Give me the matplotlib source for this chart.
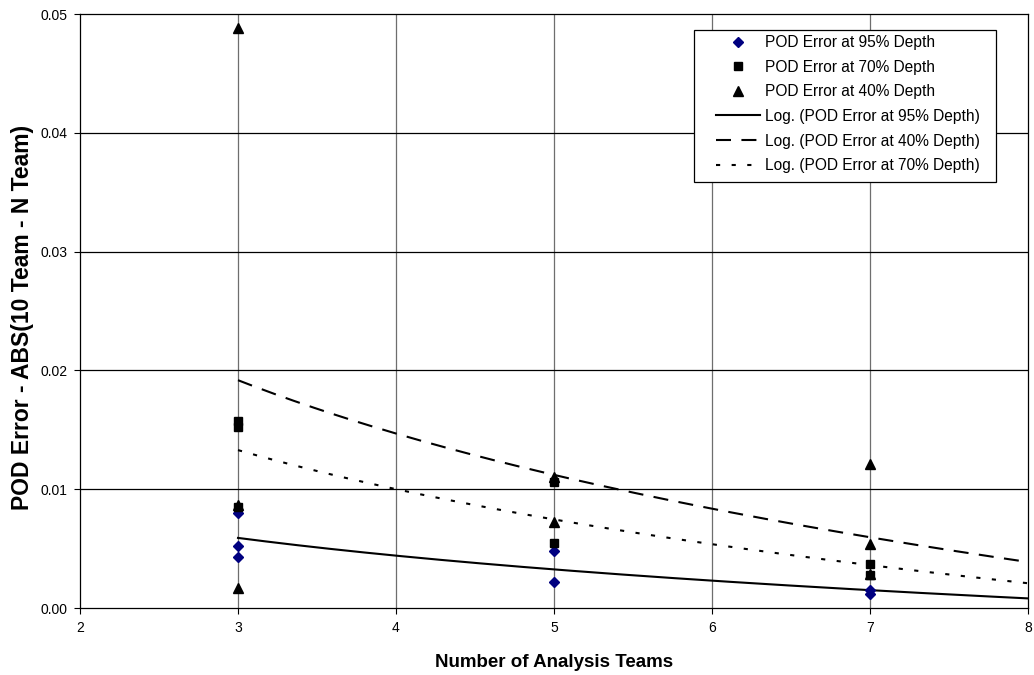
import numpy as np
import matplotlib
matplotlib.use("Agg")
import matplotlib.pyplot as plt
from matplotlib.ticker import FormatStrFormatter
from matplotlib.patches import Rectangle
from matplotlib.transforms import IdentityTransform

plt.rcParams['font.family'] = ['Liberation Sans', 'DejaVu Sans']

# ---- data ----
x95 = [3, 3, 3, 5, 5, 7, 7]
y95 = [0.0080, 0.0052, 0.0043, 0.0048, 0.0022, 0.0015, 0.0012]

x70 = [3, 3, 3, 5, 5, 7, 7]
y70 = [0.0157, 0.0152, 0.0085, 0.0106, 0.0055, 0.0037, 0.0028]

x40 = [3, 3, 3, 5, 5, 7, 7, 7]
y40 = [0.0488, 0.0087, 0.0017, 0.0110, 0.0072, 0.0121, 0.0054, 0.0029]

trend_x_range = (3, 8)
x_ticks = [2, 3, 4, 5, 6, 7, 8]
y_ticks = [0.00, 0.01, 0.02, 0.03, 0.04, 0.05]

fig = plt.figure(figsize=(10.34, 6.75), dpi=100)
ax = fig.add_axes([80/1034, 1-608/675, 948/1034, 594/675])

ax.set_xlim(2, 8)
ax.set_ylim(0, 0.05)
ax.set_xticks(x_ticks)
ax.set_yticks(y_ticks)
ax.yaxis.set_major_formatter(FormatStrFormatter('%.2f'))

# gridlines
for xv in x_ticks[1:-1]:
    ax.axvline(xv, color='#6e6e6e', lw=0.9, zorder=1)
for yv in y_ticks[1:-1]:
    ax.axhline(yv, color='black', lw=0.9, zorder=1)

for s in ax.spines.values():
    s.set_color('black')
    s.set_linewidth(0.9)

ax.tick_params(direction='out', length=4, width=0.8, labelsize=10, pad=5, colors='black')

# trend lines (logarithmic fits)
xt = np.linspace(trend_x_range[0], trend_x_range[1], 200)
def logfit(xs, ys):
    a, b = np.polyfit(np.log(np.array(xs, float)), np.array(ys, float), 1)
    return a * np.log(xt) + b

lw = 1.5
l95, = ax.plot(xt, logfit(x95, y95), color='black', lw=lw, zorder=3,
               label='Log. (POD Error at 95% Depth)')
l40, = ax.plot(xt, logfit(x40, y40), color='black', lw=lw, zorder=3,
               label='Log. (POD Error at 40% Depth)')
l40.set_dashes((7.2, 5.0))
l70, = ax.plot(xt, logfit(x70, y70), color='black', lw=lw, zorder=3,
               label='Log. (POD Error at 70% Depth)')
l70.set_dashes((2.0, 5.5))

# scatter points
p95, = ax.plot(x95, y95, linestyle='none', marker='D', ms=5.5, color='#000080',
               mec='#000080', zorder=5, label='POD Error at 95% Depth')
p70, = ax.plot(x70, y70, linestyle='none', marker='s', ms=5.5, color='black',
               zorder=5, label='POD Error at 70% Depth')
p40, = ax.plot(x40, y40, linestyle='none', marker='^', ms=6.5, color='black',
               zorder=5, label='POD Error at 40% Depth', clip_on=False)

leg = ax.legend(handles=[p95, p70, p40, l95, l40, l70],
                loc='upper left', bbox_to_anchor=((716-80)/948, (608-35)/594),
                fontsize=11.2, frameon=False,
                borderpad=0, labelspacing=0.62, handlelength=2.85,
                handletextpad=0.33, borderaxespad=0, numpoints=1)
leg.set_zorder(10)

ax.set_xlabel('Number of Analysis Teams', fontsize=13.5, fontweight='bold', labelpad=14)
ax.set_ylabel('POD Error - ABS(10 Team - N Team)', fontsize=16.5, fontweight='bold')
ax.yaxis.set_label_coords((34-80)/948, 0.49)

# legend frame drawn around the legend contents (Excel-like padding)
fig.canvas.draw()
bb = leg.get_window_extent(fig.canvas.get_renderer())
padL, padR, padT, padB = 22, 16, 5, 9
frame = Rectangle((bb.x0 - padL, bb.y0 - padB), bb.width + padL + padR,
                  bb.height + padT + padB, transform=IdentityTransform(),
                  facecolor='white', edgecolor='black', lw=0.9, zorder=9)
ax.add_patch(frame)

fig.savefig('out.png', dpi=100, facecolor='white')
